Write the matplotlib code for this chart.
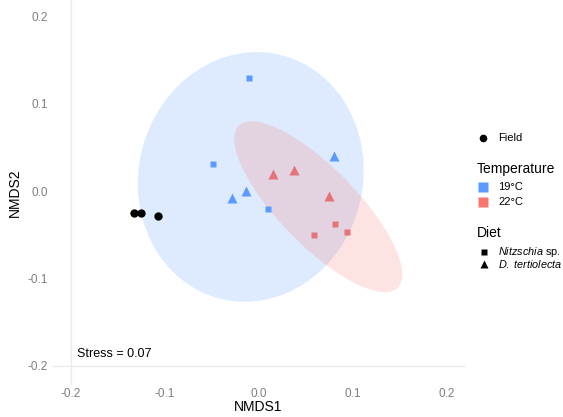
import matplotlib
matplotlib.use('Agg')
import matplotlib.pyplot as plt
from matplotlib.patches import Ellipse
from matplotlib.lines import Line2D

plt.rcParams['font.family'] = ['Liberation Sans', 'DejaVu Sans']
plt.rcParams['mathtext.fontset'] = 'custom'
plt.rcParams['mathtext.it'] = 'Liberation Sans:italic'
plt.rcParams['mathtext.rm'] = 'Liberation Sans'

# NMDS scores
blue_sq_x = [-0.0103, -0.0492, 0.0096]
blue_sq_y = [0.129, 0.0313, -0.021]
blue_tri_x = [-0.029, -0.0138, 0.080]
blue_tri_y = [-0.0077, 0.0, 0.040]
red_tri_x = [0.0152, 0.0372, 0.074]
red_tri_y = [0.019, 0.0237, -0.0057]
red_sq_x = [0.0808, 0.0588, 0.0932]
red_sq_y = [-0.0374, -0.0504, -0.047]
field_x = [-0.1325, -0.1254, -0.107]
field_y = [-0.0248, -0.0248, -0.0283]

# ellipses: centre x, centre y, width, height, angle
ell_19 = [-0.0087, 0.0161, 0.239, 0.287, -8.4]
ell_22 = [0.063, -0.018, 0.251, 0.085, -48.3]

ticks = [-0.2, -0.1, 0.0, 0.1, 0.2]
stress = 0.07
temp_labels = ['19°C', '22°C']
diet_labels = [r'$\it{Nitzschia}$ sp.', r'$\it{D.\ tertiolecta}$']

blue = '#5B9BFF'
red = '#F8766D'
red_pt = '#E5737A'

W, H = 563, 417
fig = plt.figure(figsize=(W / 100, H / 100), dpi=100)
ax = fig.add_axes([52 / W, 32 / H, 413 / W, 385 / H])
ax.set_xlim(-0.22, 0.219)
ax.set_ylim(-0.2222, 0.2188)

ax.axvline(-0.2, color='#EBEBEB', lw=1, zorder=0)
ax.axhline(-0.2, color='#EBEBEB', lw=1, zorder=0)

for e, c in [(ell_19, blue), (ell_22, red)]:
    ax.add_patch(Ellipse((e[0], e[1]), e[2], e[3], angle=e[4],
                         facecolor=c, alpha=0.2, edgecolor='none', zorder=1))

ax.plot(blue_sq_x, blue_sq_y, 's', ms=5, color=blue, mec='none', zorder=3)
ax.plot(blue_tri_x, blue_tri_y, '^', ms=6.5, color=blue, mec='none', zorder=3)
ax.plot(red_tri_x, red_tri_y, '^', ms=6.5, color=red_pt, mec='none', zorder=3)
ax.plot(red_sq_x, red_sq_y, 's', ms=5, color=red_pt, mec='none', zorder=3)
ax.plot(field_x, field_y, 'o', ms=6, color='black', mec='none', zorder=3)

ax.text(-0.193, -0.187, 'Stress = %.2f' % stress, fontsize=9, va='center', ha='left')

ax.set_xticks(ticks)
ax.set_yticks(ticks)
ax.set_xticklabels(['%.1f' % t for t in ticks])
ax.set_yticklabels(['%.1f' % t for t in ticks])
ax.tick_params(length=0, labelsize=8.5, labelcolor='#7F7F7F', pad=3)
ax.tick_params(axis='x', pad=2)
for s in ax.spines.values():
    s.set_visible(False)
ax.set_xlabel('NMDS1', fontsize=10, labelpad=0)
ax.set_ylabel('NMDS2', fontsize=10, labelpad=4)


# legend drawn by hand in pixel positions of the figure
def px(x, y):
    return x / W, 1 - y / H


def key(x, y, marker, color, ms):
    fx, fy = px(x, y)
    fig.add_artist(Line2D([fx], [fy], transform=fig.transFigure, marker=marker,
                          ls='none', color=color, mec='none', ms=ms))


def label(x, y, s, size):
    fx, fy = px(x, y)
    fig.text(fx, fy, s, fontsize=size, ha='left', va='center')


key(483, 138, 'o', 'black', 5.5)
label(498, 138, 'Field', 8)
label(477, 169, 'Temperature', 10)
for i, (lab, c) in enumerate(zip(temp_labels, [blue, red])):
    key(483, 187 + 15 * i, 's', c, 7)
    label(498, 187 + 15 * i, lab, 8)
label(477, 233, 'Diet', 10)
for i, (lab, m, ms) in enumerate(zip(diet_labels, ['s', '^'], [4, 5.5])):
    key(484, 252 + 11.5 * i, m, 'black', ms)
    label(498, 252 + 11.5 * i, lab, 7.8)

fig.savefig('out.png', dpi=100)
